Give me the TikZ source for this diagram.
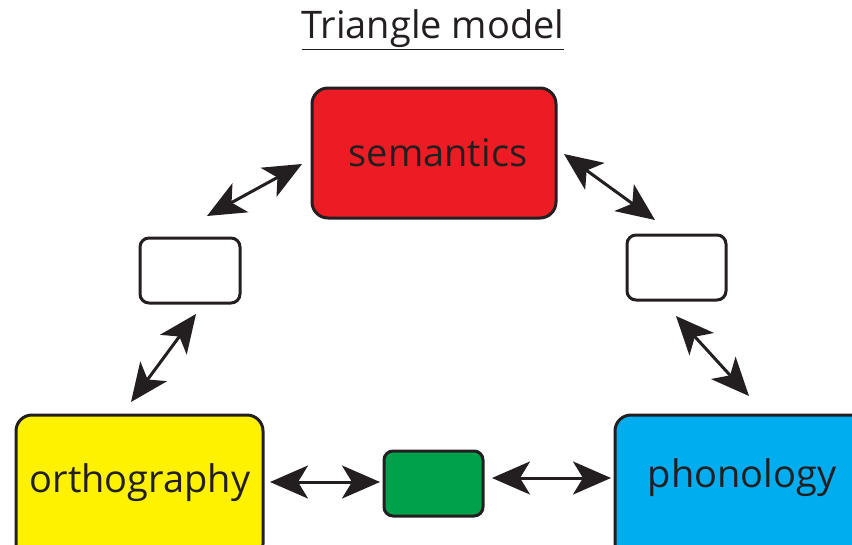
\documentclass[tikz,border=0pt]{standalone}
\usepackage{fontspec}
\setmainfont{Open Sans}
\usetikzlibrary{arrows.meta}
\definecolor{ink}{HTML}{231F20}
\definecolor{semred}{HTML}{ED1C24}
\definecolor{orthyel}{HTML}{FFF200}
\definecolor{phonblue}{HTML}{00AEEF}
\definecolor{hidgreen}{HTML}{00A14B}
\tikzset{
  bighead/.tip={Stealth[length=38pt,width=33pt,inset=10pt]},
  bigbox/.style={draw=ink, line width=3pt, rounded corners=16pt},
  smallbox/.style={draw=ink, line width=3pt, rounded corners=9pt, fill=white},
  label/.style={text=ink, font=\fontsize{38}{44}\selectfont},
  link/.style={draw=ink, line width=3pt, bighead-bighead}
}
\begin{document}
\begin{tikzpicture}[x=1pt,y=-1pt]
\clip (0,0) rectangle (852,544);
\fill[white] (0,0) rectangle (852,544);
% title
\node (title) at (433,30) {\fontsize{38}{44}\selectfont\color{ink}\underline{Triangle model}};
% main boxes
\filldraw[bigbox, fill=semred] (312,88) rectangle (556,218);
\node[label] (sem) at (438,153) {semantics};
\filldraw[bigbox, fill=orthyel] (16,415) rectangle (263,560);
\node[label] (orth) at (140,483) {orthography};
\filldraw[bigbox, fill=phonblue] (615,415) rectangle (870,560);
\node[label] (phon) at (742,478) {phonology};
% hidden layers
\filldraw[smallbox] (140,238) rectangle (240,303);
\node (hidl) at (190,270) {};
\filldraw[smallbox] (627,235) rectangle (726,300);
\node (hidr) at (676,267) {};
\filldraw[smallbox, fill=hidgreen] (384,451) rectangle (483,516);
\node (hidb) at (433,483) {};
% connector ends
\coordinate (a1) at (207,216); \coordinate (a2) at (302,164);
\coordinate (b1) at (196,314); \coordinate (b2) at (131,402);
\coordinate (c1) at (564,154); \coordinate (c2) at (655,220);
\coordinate (d1) at (676,316); \coordinate (d2) at (749,396);
\coordinate (e1) at (270,482); \coordinate (e2) at (380,482);
\coordinate (f1) at (492,478); \coordinate (f2) at (611,478);
\draw[link] (a1) -- (a2);
\draw[link] (b1) -- (b2);
\draw[link] (c1) -- (c2);
\draw[link] (d1) -- (d2);
\draw[link] (e1) -- (e2);
\draw[link] (f1) -- (f2);
\end{tikzpicture}
\end{document}
